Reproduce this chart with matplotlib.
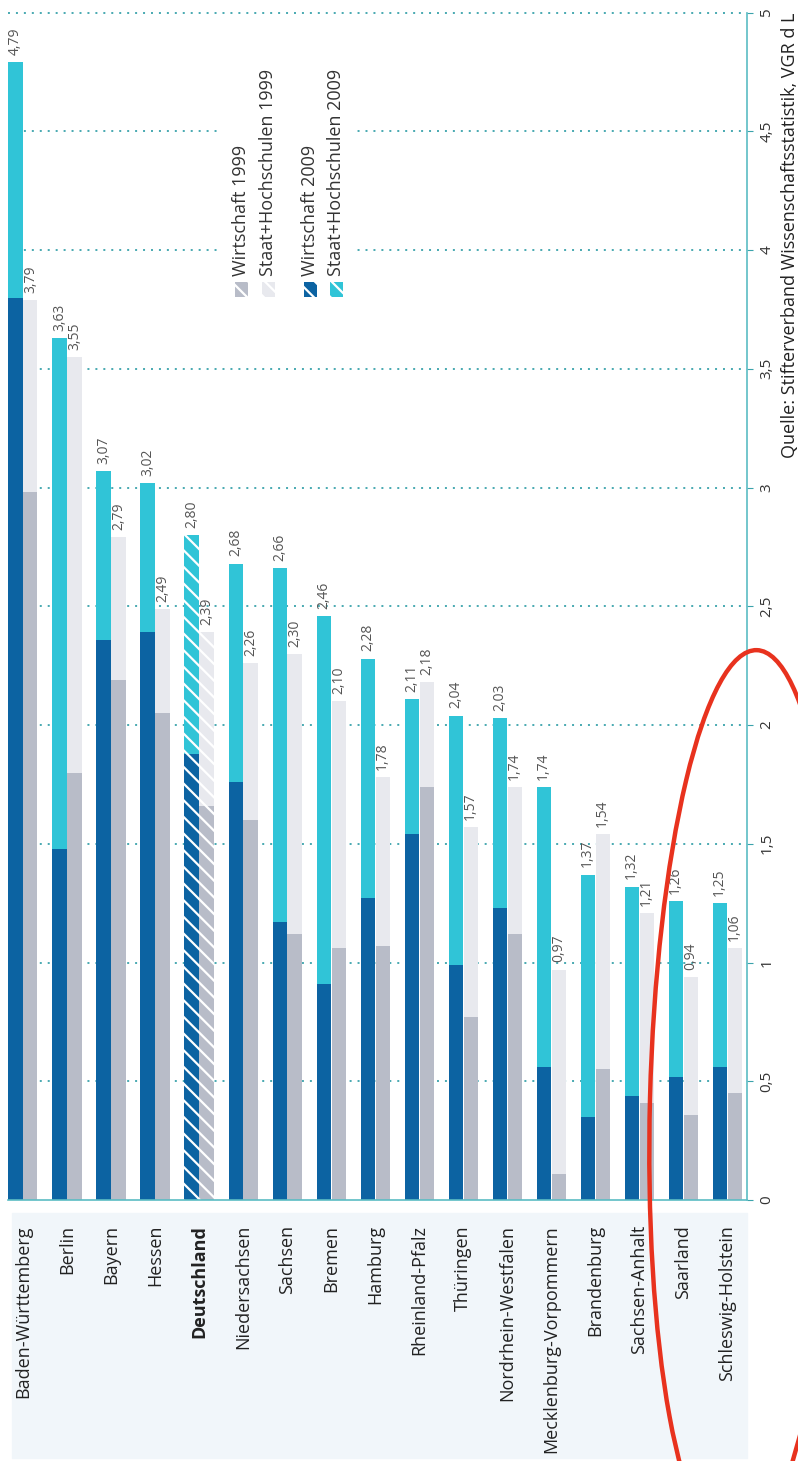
import matplotlib
matplotlib.use('Agg')
from matplotlib import pyplot as plt
from matplotlib.patches import Rectangle, Ellipse
from matplotlib.transforms import IdentityTransform
import numpy as np

plt.rcParams['font.family'] = ['Open Sans', 'DejaVu Sans']
plt.rcParams['hatch.linewidth'] = 1.6

# FuE-Ausgaben in % des BIP
laender = ["Baden-Württemberg", "Berlin", "Bayern", "Hessen", "Deutschland",
           "Niedersachsen", "Sachsen", "Bremen", "Hamburg", "Rheinland-Pfalz",
           "Thüringen", "Nordrhein-Westfalen", "Mecklenburg-Vorpommern",
           "Brandenburg", "Sachsen-Anhalt", "Saarland", "Schleswig-Holstein"]
gesamt_2009 = [4.79, 3.63, 3.07, 3.02, 2.80, 2.68, 2.66, 2.46, 2.28, 2.11,
               2.04, 2.03, 1.74, 1.37, 1.32, 1.26, 1.25]
wirtschaft_2009 = [3.80, 1.48, 2.36, 2.39, 1.88, 1.76, 1.17, 0.91, 1.27, 1.54,
                   0.99, 1.23, 0.56, 0.35, 0.44, 0.52, 0.56]
gesamt_1999 = [3.79, 3.55, 2.79, 2.49, 2.39, 2.26, 2.30, 2.10, 1.78, 2.18,
               1.57, 1.74, 0.97, 1.54, 1.21, 0.94, 1.06]
wirtschaft_1999 = [2.98, 1.80, 2.19, 2.05, 1.66, 1.60, 1.12, 1.06, 1.07, 1.74,
                   0.77, 1.12, 0.11, 0.55, 0.41, 0.36, 0.45]
y_ticks = [0, 0.5, 1, 1.5, 2, 2.5, 3, 3.5, 4, 4.5, 5]
legend_labels = ["Wirtschaft 1999", "Staat+Hochschulen 1999",
                 "Wirtschaft 2009", "Staat+Hochschulen 2009"]
quelle = "Quelle: Stifterverband Wissenschaftsstatistik, VGR d L"

dunkelblau = "#0c63a2"
cyan = "#30c4d7"
grau = "#b8bcc8"
hellgrau = "#e8e9ee"
teal = "#3aa3ab"

W, H = 798, 1461
fig = plt.figure(figsize=(W / 100, H / 100), dpi=100)


def fx(x):
    return x / W


def fy(y):
    return 1 - y / H


ax = fig.add_axes([fx(8), fy(1200), fx(747) - fx(8), fy(12.5) - fy(1200)])
ax.patch.set_visible(False)

# light panel behind the state names
fig.add_artist(Rectangle((fx(12), fy(1458)), fx(747) - fx(12), fy(1213) - fy(1458),
                         transform=fig.transFigure, color="#f1f6fa", zorder=-5))

idx = np.arange(len(laender))
staat_2009 = np.array(gesamt_2009) - np.array(wirtschaft_2009)
staat_1999 = np.array(gesamt_1999) - np.array(wirtschaft_1999)
bw = 0.32
off = 0.17

b1 = ax.bar(idx - off, wirtschaft_2009, bw, color=dunkelblau, linewidth=0, zorder=2)
b2 = ax.bar(idx - off, staat_2009, bw, bottom=wirtschaft_2009, color=cyan, linewidth=0, zorder=2)
b3 = ax.bar(idx + off, wirtschaft_1999, bw, color=grau, linewidth=0, zorder=2)
b4 = ax.bar(idx + off, staat_1999, bw, bottom=wirtschaft_1999, color=hellgrau, linewidth=0, zorder=2)

# Deutschland is hatched
de = laender.index("Deutschland")
for bars in (b1, b2, b3, b4):
    bars[de].set_hatch("\\\\")
    bars[de].set_edgecolor("white")

for i in idx:
    ax.text(i - off, gesamt_2009[i] + 0.03, f"{gesamt_2009[i]:.2f}".replace(".", ","),
            rotation=90, ha="center", va="bottom", fontsize=10, color="#555555")
    ax.text(i + off, gesamt_1999[i] + 0.03, f"{gesamt_1999[i]:.2f}".replace(".", ","),
            rotation=90, ha="center", va="bottom", fontsize=10, color="#555555")

ax.set_xlim(-0.34, 16.45)
ax.set_ylim(0, 5)

# dotted grid
ax.hlines(y_ticks[1:], -0.34, 16.45, colors=teal, linestyles=(0, (1.1, 3.3)),
          linewidth=1.3, zorder=0.5, clip_on=False)

ax.yaxis.tick_right()
ax.set_yticks(y_ticks)
ax.set_yticklabels([f"{v:g}".replace(".", ",") for v in y_ticks],
                   rotation=90, va="center", fontsize=11, color="#333333")
ax.tick_params(axis="y", colors=teal, labelcolor="#333333", length=4, pad=5)

ax.set_xticks(idx)
ax.set_xticklabels(laender, rotation=90, fontsize=13, color="#222222")
ax.tick_params(axis="x", length=0, pad=18)
ax.get_xticklabels()[de].set_fontweight("bold")

for s in ("left", "top"):
    ax.spines[s].set_visible(False)
for s in ("right", "bottom"):
    ax.spines[s].set_color("#5bbcc4")
    ax.spines[s].set_linewidth(1.2)

# legend, built by hand because the text is rotated
ax.add_patch(Rectangle((fx(222), fy(302)), fx(355) - fx(222), fy(50) - fy(302),
                       transform=fig.transFigure, color="white", zorder=1, clip_on=False))
leg_x = [241, 268, 310, 336]
leg_col = [grau, hellgrau, dunkelblau, cyan]
for x, c, lab in zip(leg_x, leg_col, legend_labels):
    ax.add_patch(Rectangle((fx(x - 6.5), fy(297)), fx(13), fy(282) - fy(297),
                           transform=fig.transFigure, facecolor=c, edgecolor="white",
                           hatch="\\\\", linewidth=0, zorder=3, clip_on=False))
    ax.text(fx(x), fy(276), lab, transform=fig.transFigure, rotation=90,
            ha="center", va="bottom", fontsize=13, color="#333333", zorder=3)

fig.text(fx(790), fy(13), quelle, rotation=90, ha="center", va="top",
         fontsize=13, color="#222222")

# red marker ellipse from the scan
fig.add_artist(Ellipse((745, H - 1100), 190, 900, angle=-1.5, fill=False,
                       edgecolor="#e8321e", linewidth=3.2, transform=IdentityTransform(),
                       zorder=10))

fig.savefig("out.png", dpi=100)
